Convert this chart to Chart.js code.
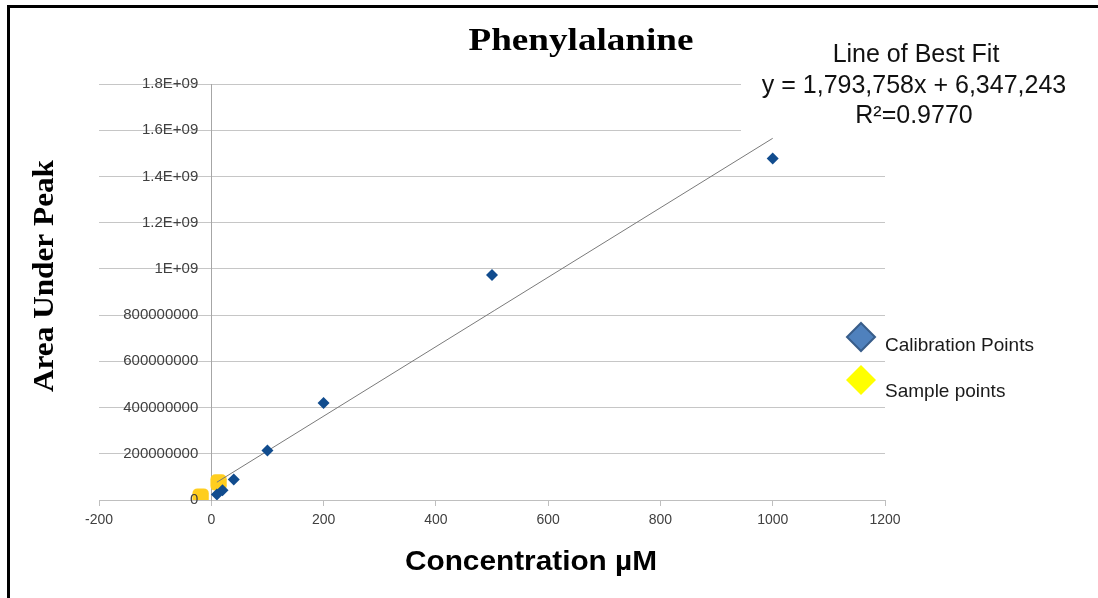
<!DOCTYPE html>
<html lang="en">
<head>
<meta charset="UTF-8">
<title>Phenylalanine</title>
<script src="https://cdn.jsdelivr.net/npm/chart.js"></script>
<style>
  body, html {
    margin: 0;
    padding: 0;
    background: #fff;
  }
  .wrap {
    position: relative;
    width: 1098px;
    height: 598px;
    overflow: hidden;
  }
  #chart {
    position: absolute;
    left: 0;
    top: 0;
  }
  .frame {
    position: absolute;
    left: 7px;
    top: 5px;
    width: 1200px;
    height: 700px;
    border-left: 3px solid #000;
    border-top: 3px solid #000;
    pointer-events: none;
  }
</style>
</head>
<body>
<div class="wrap">
  <canvas id="chart" width="1098" height="598"></canvas>
  <div class="frame"></div>
</div>

<script>
// values
const calibX = [10, 20, 40, 100, 200, 500, 1000];
const calibY = [2.4e7, 4.2e7, 8.9e7, 2.14e8, 4.2e8, 9.74e8, 1.478e9];
const sampleX = [-19, 13];
const sampleY = [1.5e7, 7.6e7];
const trendX = [10, 1000];
const trendY = [7.7e7, 1.565e9];
const yTickLabels = ['0', '200000000', '400000000', '600000000', '800000000',
                     '1E+09', '1.2E+09', '1.4E+09', '1.6E+09', '1.8E+09'];
const legendLabels = ['Calibration Points', 'Sample points'];
const fitLines = ['Line of Best Fit', 'y = 1,793,758x + 6,347,243', 'R\u00b2=0.9770'];

const toPoints = (xs, ys) => xs.map((x, i) => ({ x: x, y: ys[i] }));
const tickFont = { family: '"Liberation Sans", Arial, sans-serif', size: 14 };

// draws text squeezed/stretched to a given width
function fitText(ctx, text, x, y, w, rot) {
  const m = ctx.measureText(text).width;
  ctx.save();
  ctx.translate(x, y);
  if (rot) ctx.rotate(rot);
  ctx.scale(w / m, 1);
  ctx.textAlign = 'center';
  ctx.textBaseline = 'alphabetic';
  ctx.fillText(text, 0, 0);
  ctx.restore();
}

function diamond(ctx, x, y, r) {
  ctx.beginPath();
  ctx.moveTo(x, y - r);
  ctx.lineTo(x + r, y);
  ctx.lineTo(x, y + r);
  ctx.lineTo(x - r, y);
  ctx.closePath();
}

const decor = {
  id: 'decor',
  afterDatasetsDraw(chart) {
    // y labels sit just left of the axis at x = 0, over the gridlines
    const ctx = chart.ctx;
    const ys = chart.scales.y;
    const axisX = chart.scales.x.getPixelForValue(0);
    ctx.save();
    ctx.fillStyle = '#404040';
    ctx.font = '15px ' + tickFont.family;
    ctx.textAlign = 'right';
    ctx.textBaseline = 'middle';
    ys.ticks.forEach((t, i) => {
      ctx.fillText(yTickLabels[i], axisX - 13, ys.getPixelForValue(t.value));
    });
    ctx.restore();
  },
  afterDraw(chart) {
    const ctx = chart.ctx;
    ctx.save();

    // white text box over the top right corner
    ctx.fillStyle = '#fff';
    ctx.fillRect(741, 8, 357, 124);

    ctx.fillStyle = '#111';
    ctx.font = '25px "Liberation Sans", Arial, sans-serif';
    ctx.textAlign = 'center';
    ctx.fillText(fitLines[0], 916, 62);
    ctx.fillText(fitLines[1], 914, 93);
    ctx.fillText(fitLines[2], 914, 123);

    // title
    ctx.fillStyle = '#000';
    ctx.font = 'bold 32px "Liberation Serif", "Times New Roman", serif';
    fitText(ctx, 'Phenylalanine', 581, 50, 225);

    // axis titles
    ctx.font = 'bold 30px "Liberation Serif", "Times New Roman", serif';
    fitText(ctx, 'Area Under Peak', 53, 276, 232, -Math.PI / 2);
    ctx.font = 'bold 28px "Liberation Sans", Arial, sans-serif';
    fitText(ctx, 'Concentration \u00b5M', 531, 570, 252);

    // legend
    diamond(ctx, 861, 337, 14);
    ctx.fillStyle = '#4F81BD';
    ctx.fill();
    ctx.lineWidth = 2;
    ctx.strokeStyle = '#385D8A';
    ctx.stroke();
    diamond(ctx, 861, 380, 15);
    ctx.fillStyle = '#FFFF00';
    ctx.fill();

    ctx.fillStyle = '#1a1a1a';
    ctx.font = '19px "Liberation Sans", Arial, sans-serif';
    ctx.textAlign = 'left';
    ctx.fillText(legendLabels[0], 885, 351);
    ctx.fillText(legendLabels[1], 885, 397);

    ctx.restore();
  }
};

new Chart(document.getElementById('chart'), {
  type: 'scatter',
  data: {
    datasets: [
      {
        label: legendLabels[0],
        data: toPoints(calibX, calibY),
        pointStyle: 'rectRot',
        pointRadius: 6,
        backgroundColor: '#114C8E',
        borderColor: '#114C8E',
        borderWidth: 0,
        order: 0
      },
      {
        label: 'Trendline',
        data: toPoints(trendX, trendY),
        showLine: true,
        borderColor: '#7a7a7a',
        borderWidth: 1,
        pointRadius: 0,
        order: 1
      },
      {
        label: legendLabels[1],
        data: toPoints(sampleX, sampleY),
        pointStyle: 'rectRounded',
        pointRadius: 9.5,
        backgroundColor: '#FFCE1F',
        borderColor: '#FFCE1F',
        borderWidth: 0,
        order: 2
      }
    ]
  },
  options: {
    responsive: false,
    animation: false,
    layout: { padding: { left: 99, right: 213, top: 84, bottom: 68 } },
    plugins: {
      legend: { display: false },
      tooltip: { enabled: false }
    },
    scales: {
      x: {
        type: 'linear',
        min: -200,
        max: 1200,
        ticks: {
          stepSize: 200,
          color: '#404040',
          font: tickFont,
          padding: 6,
          maxRotation: 0,
          callback: v => String(v)
        },
        grid: { drawOnChartArea: false, drawTicks: true, tickLength: 6, color: '#bfbfbf' },
        border: { color: '#bfbfbf' },
        afterFit: s => { s.height = 30; }
      },
      y: {
        type: 'linear',
        position: { x: 0 },
        min: 0,
        max: 1.8e9,
        ticks: { stepSize: 2e8, display: false },
        grid: { color: '#c6c6c6', drawTicks: false },
        border: { color: '#a6a6a6' }
      }
    }
  },
  plugins: [decor]
});
</script>
</body>
</html>
